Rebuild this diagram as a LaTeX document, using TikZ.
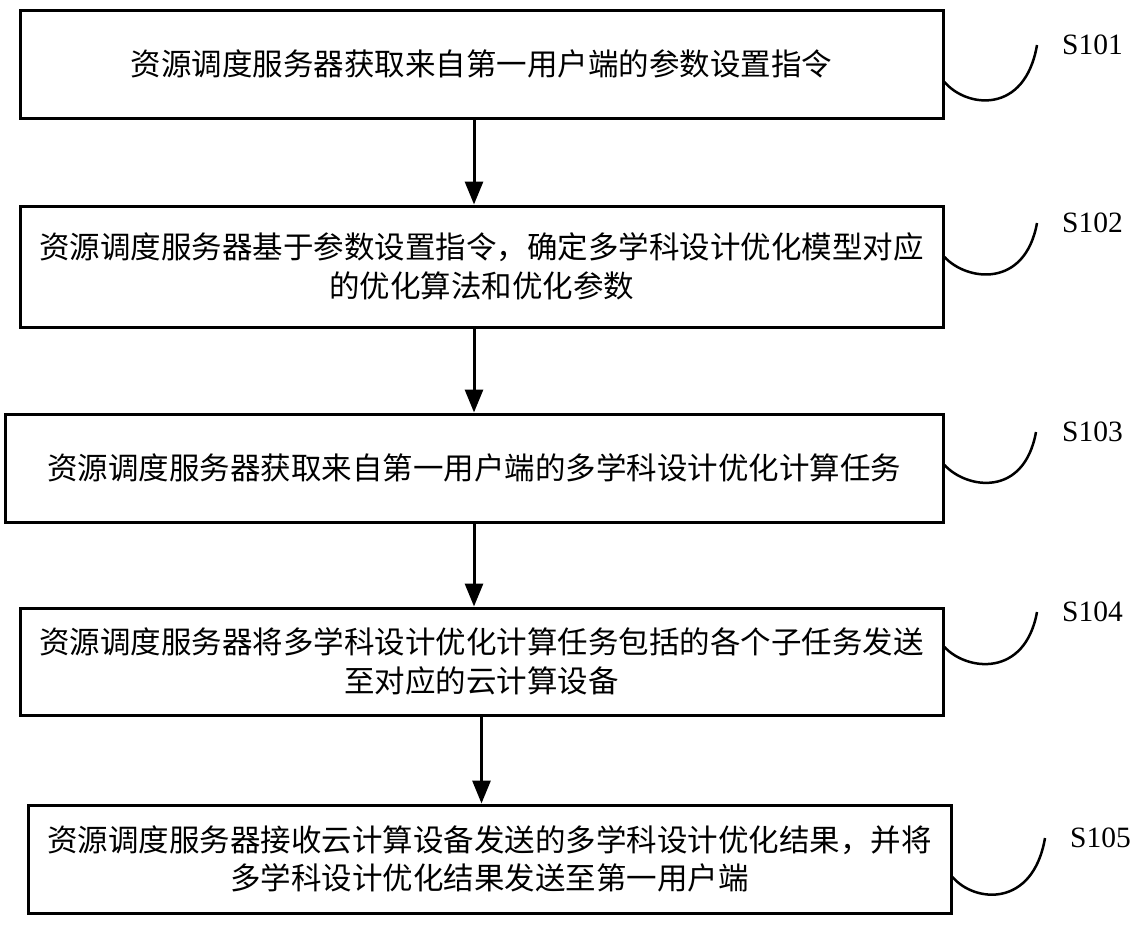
\documentclass[tikz,border=0pt]{standalone}
\usepackage{fontspec}
\setmainfont{Liberation Serif}
\newfontfamily\cjk{Noto Sans CJK SC}
\usepackage{tikz}
\usetikzlibrary{positioning,arrows.meta}

\begin{document}
\begin{tikzpicture}
			[x=1pt, y=-1pt,
			stepbox/.style={rectangle, draw=black, line width=3pt, align=center,
				font=\cjk\fontsize{30.5}{38.5}\selectfont, inner sep=0pt},
			flow/.style={draw=black, line width=3pt, -{Triangle[length=23pt,width=18pt]}},
			squig/.style={draw=black, line width=2.5pt},
			steplabel/.style={anchor=west, inner sep=0pt, font=\fontsize{29.5}{32}\selectfont},
			]
			\useasboundingbox (0,0) rectangle (1143,927);
			% boxes
			\node[stepbox, minimum width=923pt, minimum height=108pt] (s1) at (481.5,64)
				{资源调度服务器获取来自第一用户端的参数设置指令};
			\node[stepbox, minimum width=923pt, minimum height=121pt] (s2) at (481.5,266.5)
				{资源调度服务器基于参数设置指令，确定多学科设计优化模型对应\\的优化算法和优化参数};
			\node[stepbox, minimum width=938pt, minimum height=108pt] (s3) at (474,468)
				{资源调度服务器获取来自第一用户端的多学科设计优化计算任务};
			\node[stepbox, minimum width=923pt, minimum height=107pt] (s4) at (481.5,661.5)
				{资源调度服务器将多学科设计优化计算任务包括的各个子任务发送\\至对应的云计算设备};
			\node[stepbox, minimum width=923pt, minimum height=108pt] (s5) at (489.5,859)
				{资源调度服务器接收云计算设备发送的多学科设计优化结果，并将\\多学科设计优化结果发送至第一用户端};
			% labels
			\node[steplabel] (l1) at (1062,45) {S101};
			\node[steplabel] (l2) at (1062,223) {S102};
			\node[steplabel] (l3) at (1062,432) {S103};
			\node[steplabel] (l4) at (1062,612) {S104};
			\node[steplabel] (l5) at (1070,838) {S105};
			% arrows
			\draw[flow] ([xshift=-7.5pt]s1.south) -- ([xshift=-7.5pt]s2.north);
			\draw[flow] ([xshift=-7.5pt]s2.south) -- ([xshift=-7.5pt]s2.south |- s3.north);
			\draw[flow] (s3.south) -- (s3.south |- s4.north);
			\draw[flow] (s4.south) -- (s4.south |- s5.north);
			% leader curves
			\draw[squig] ([yshift=-18pt]s1.east) .. controls +(22,26) and +(-12,70) .. ([xshift=-25pt]l1.west);
			\draw[squig] ([yshift=9.5pt]s2.east) .. controls +(22,24) and +(-12,66) .. ([xshift=-25pt]l2.west);
			\draw[squig] ([yshift=3pt]s3.east) .. controls +(22,24) and +(-12,66) .. ([xshift=-26pt]l3.west);
			\draw[squig] ([yshift=14.5pt]s4.east) .. controls +(22,24) and +(-12,66) .. ([xshift=-25pt]l4.west);
			\draw[squig] ([yshift=-18pt]s5.east) .. controls +(22,26) and +(-12,70) .. ([xshift=-25pt]l5.west);
		\end{tikzpicture}
\end{document}
